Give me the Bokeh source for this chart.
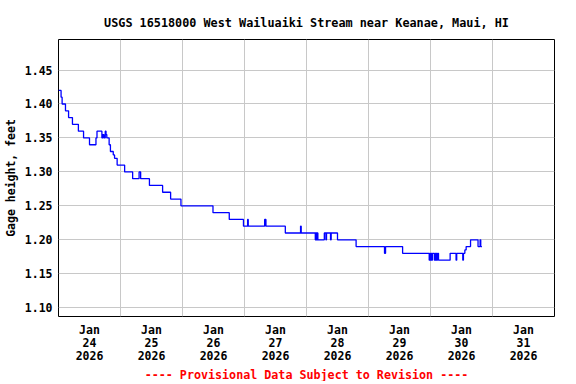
import pandas as pd
from bokeh.plotting import figure
from bokeh.models import Range1d, FixedTicker, DatetimeTickFormatter, Title
from bokeh.embed import file_html
from bokeh.resources import INLINE

# ---- data ----
title_text = "USGS 16518000 West Wailuaiki Stream near Keanae, Maui, HI"
footer_text = "---- Provisional Data Subject to Revision ----"
y_label = "Gage height, feet"
start_time = "2026-01-24 00:00"
n_days = 8

# hours since 2026-01-24 00:00 at which the gage height changes
hours = [0.0, 1.0, 1.4, 2.7, 3.9, 5.4, 7.7, 9.7, 12.0, 14.5, 14.9, 16.8, 17.2, 17.6,
         18.1, 18.4, 18.7, 19.6, 20.1, 21.2, 21.7, 22.7, 25.6, 28.7, 31.2, 31.8,
         35.2, 40.3, 43.4, 47.4, 59.8, 66.1, 71.6, 73.2, 73.45, 79.8, 80.3, 87.8,
         93.7, 93.95, 99.4, 99.65, 99.9, 100.15, 100.4, 102.9, 103.5, 103.75,
         105.3, 105.55, 108.0, 115.2, 126.2, 126.6, 133.2, 143.5, 143.75, 144.0,
         144.25, 144.5, 144.75, 145.5, 145.75, 146.0, 146.25, 146.5, 146.75,
         147.1, 151.6, 153.9, 154.15, 156.5, 156.75, 157.3, 157.8, 159.5, 162.4,
         163.2, 163.45, 163.9]
gage = [1.42, 1.41, 1.40, 1.39, 1.38, 1.37, 1.36, 1.35, 1.34, 1.35, 1.36, 1.35, 1.355, 1.35,
        1.36, 1.355, 1.35, 1.34, 1.33, 1.325, 1.32, 1.31, 1.30, 1.29, 1.30, 1.29,
        1.28, 1.27, 1.26, 1.25, 1.24, 1.23, 1.22, 1.23, 1.22, 1.23, 1.22, 1.21,
        1.22, 1.21, 1.20, 1.21, 1.20, 1.21, 1.20, 1.21, 1.20, 1.21,
        1.20, 1.21, 1.20, 1.19, 1.18, 1.19, 1.18, 1.17, 1.18, 1.17,
        1.18, 1.17, 1.18, 1.17, 1.18, 1.17, 1.18, 1.17, 1.18,
        1.17, 1.18, 1.17, 1.18, 1.17, 1.18, 1.185, 1.19, 1.20, 1.19,
        1.20, 1.19, 1.19]
y_ticks = [1.10, 1.15, 1.20, 1.25, 1.30, 1.35, 1.40, 1.45]
y_min, y_max = 1.087, 1.495

# ---- build ----
t0 = pd.Timestamp(start_time)
x = t0 + pd.to_timedelta(hours, unit="h")
def ms(ts):
    return ts.timestamp() * 1000.0
midnights = [ms(t0 + pd.Timedelta(days=d)) for d in range(1, n_days)]
noons = [ms(t0 + pd.Timedelta(days=d, hours=12)) for d in range(n_days)]

FONT = "DejaVu Sans Mono"
FS = "11.5px"

p = figure(frame_width=496, frame_height=277, x_axis_type="datetime",
           x_range=Range1d(t0, t0 + pd.Timedelta(days=n_days)),
           y_range=Range1d(y_min, y_max),
           output_backend="svg", toolbar_location=None,
           min_border_left=58, min_border_right=22, min_border_top=39, min_border_bottom=10)

p.title.text = title_text
p.title.align = "center"
p.title.text_font = FONT
p.title.text_font_size = "11.8px"
p.title.text_font_style = "bold"
p.title.text_color = "black"
p.title.standoff = 19

p.add_layout(Title(text=footer_text, align="center", text_color="#ff0000",
                   text_font=FONT, text_font_size="11.7px", text_font_style="bold",
                   standoff=0), "below")

p.step(x, gage, mode="after", line_color="#0000ff", line_width=1.3)

p.outline_line_color = "black"
p.outline_line_width = 1
p.background_fill_color = "white"
p.border_fill_color = "white"

p.xaxis.ticker = FixedTicker(ticks=noons)
p.xgrid.ticker = FixedTicker(ticks=midnights)
p.xaxis.formatter = DatetimeTickFormatter(days="%b\n%d\n%Y", hours="%b\n%d\n%Y")
p.yaxis.ticker = FixedTicker(ticks=y_ticks)
p.yaxis.major_label_overrides = {v: f"{v:.2f}" for v in y_ticks}

for ax in (p.xaxis, p.yaxis):
    ax.major_tick_line_color = None
    ax.minor_tick_line_color = None
    ax.major_tick_out = 0
    ax.major_tick_in = 0
    ax.axis_line_color = None
    ax.major_label_text_font = FONT
    ax.major_label_text_font_size = FS
    ax.major_label_text_font_style = "bold"
    ax.major_label_text_color = "black"
p.xaxis.major_label_standoff = 6
p.xaxis.major_label_text_line_height = 0.93
p.yaxis.major_label_standoff = 6
p.yaxis.axis_label = y_label
p.yaxis.axis_label_standoff = 4
p.yaxis.axis_label_text_font = FONT
p.yaxis.axis_label_text_font_size = FS
p.yaxis.axis_label_text_font_style = "bold"
p.yaxis.axis_label_text_color = "black"

for g in (p.xgrid, p.ygrid):
    g.grid_line_color = "#c8c8c8"
    g.grid_line_width = 1

open("out.html", "w").write(file_html(p, INLINE))
